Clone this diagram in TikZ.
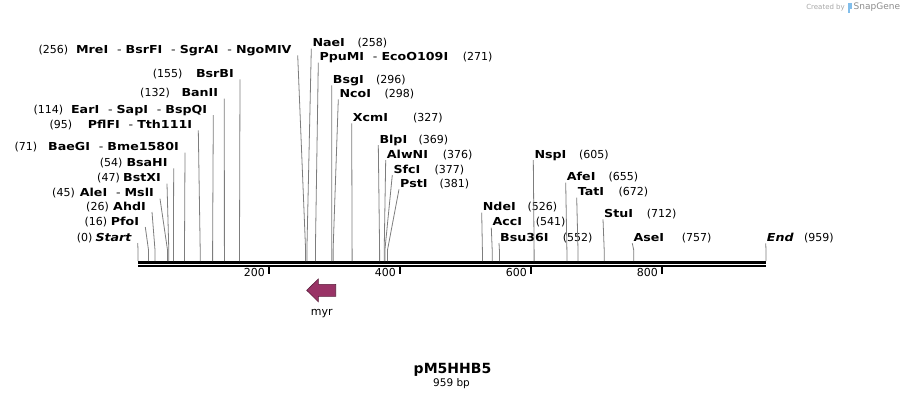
\documentclass[tikz,border=0pt]{standalone}
\usepackage{fontspec}
\setmainfont{DejaVu Sans}
\newfontfamily\enzfont{DejaVu Sans}[FakeStretch=1.15]
\usetikzlibrary{positioning}
\definecolor{myrfill}{RGB}{153,51,102}
\definecolor{myrline}{RGB}{90,30,60}
\definecolor{cutgray}{RGB}{125,125,125}
\definecolor{snapblue}{RGB}{130,190,235}

\begin{document}
\begin{tikzpicture}[x=1pt,y=-1pt]

    \tikzset{
      enz/.style={inner sep=0pt,font=\fontsize{11}{13}\enzfont\bfseries},
      num/.style={inner sep=0pt,font=\fontsize{11}{13}\selectfont},
      cut/.style={draw=cutgray,line width=0.8pt},
      tick/.style={line width=1.8pt},
    }
    \useasboundingbox (0,0) rectangle (905,400);

    % sites on the backbone
    \coordinate (s0) at (138,261);
    \coordinate (s16) at (148.5,261);
    \coordinate (s26) at (155,261);
    \coordinate (s45) at (167.5,261);
    \coordinate (s47) at (168.8,261);
    \coordinate (s54) at (173.4,261);
    \coordinate (s71) at (184.5,261);
    \coordinate (s95) at (200.2,261);
    \coordinate (s114) at (212.6,261);
    \coordinate (s132) at (224.4,261);
    \coordinate (s155) at (239.5,261);
    \coordinate (s256) at (305.6,261);
    \coordinate (s258) at (306.9,261);
    \coordinate (s271) at (315.4,261);
    \coordinate (s296) at (331.8,261);
    \coordinate (s298) at (333.1,261);
    \coordinate (s327) at (352.1,261);
    \coordinate (s369) at (379.6,261);
    \coordinate (s376) at (384.2,261);
    \coordinate (s377) at (384.9,261);
    \coordinate (s381) at (387.5,261);
    \coordinate (s526) at (482.4,261);
    \coordinate (s541) at (492.2,261);
    \coordinate (s552) at (499.4,261);
    \coordinate (s605) at (534.1,261);
    \coordinate (s655) at (566.9,261);
    \coordinate (s672) at (578,261);
    \coordinate (s712) at (604.2,261);
    \coordinate (s757) at (633.7,261);
    \coordinate (s959) at (766,261);

    % backbone and ruler
    \draw[line width=3.3pt] (138,262.3) -- (766,262.3);
    \draw[line width=2pt] (138,266.3) -- (766,266.3);
    \foreach \t/\x in {200/269,400/400,600/531,800/662}{
      \draw[tick] (\x,267) -- (\x,273.5);
      \node[num,anchor=east] (r\t) at (\x-4,272.5) {\t};
    }

    % labels left of their sites
    \node[enz,anchor=base east] (start) at (131.7,241) {\itshape Start};
    \node[num,anchor=base east] (n0) at (92.7,241) {(0)};
    \node[enz,anchor=base east] (pfoI) at (139.3,225) {PfoI};
    \node[num,anchor=base east] (n16) at (107.3,225) {(16)};
    \node[enz,anchor=base east] (ahdI) at (146,210) {AhdI};
    \node[num,anchor=base east] (n26) at (109,210) {(26)};
    \node[enz,anchor=base east] (aleI) at (154,196.7) {AleI \ \mdseries- \bfseries MslI};
    \node[num,anchor=base east] (n45) at (75,196.7) {(45)};
    \node[enz,anchor=base east] (bstXI) at (161,181.7) {BstXI};
    \node[num,anchor=base east] (n47) at (120,181.7) {(47)};
    \node[enz,anchor=base east] (bsaHI) at (167.7,166.3) {BsaHI};
    \node[num,anchor=base east] (n54) at (122.7,166.3) {(54)};
    \node[enz,anchor=base east] (baeGI) at (179,150.7) {BaeGI \ \mdseries- \bfseries Bme1580I};
    \node[num,anchor=base east] (n71) at (37.3,150.7) {(71)};
    \node[enz,anchor=base east] (pflFI) at (192.3,128.3) {PflFI \ \mdseries- \bfseries Tth111I};
    \node[num,anchor=base east] (n95) at (72.3,128.3) {(95)};
    \node[enz,anchor=base east] (earI) at (207.3,113) {EarI \ \mdseries- \bfseries SapI \ \mdseries- \bfseries BspQI};
    \node[num,anchor=base east] (n114) at (63.3,113) {(114)};
    \node[enz,anchor=base east] (banII) at (218.3,96.7) {BanII};
    \node[num,anchor=base east] (n132) at (170,96.7) {(132)};
    \node[enz,anchor=base east] (bsrBI) at (234,77.3) {BsrBI};
    \node[num,anchor=base east] (n155) at (182.7,77.3) {(155)};
    \node[enz,anchor=base east] (mreI) at (291.7,53.3) {MreI \ \mdseries- \bfseries BsrFI \ \mdseries- \bfseries SgrAI \ \mdseries- \bfseries NgoMIV};
    \node[num,anchor=base east] (n256) at (68.3,53.3) {(256)};

    % labels right of their sites
    \node[enz,anchor=base west] (naeI) at (312.3,46.7) {NaeI};
    \node[num,anchor=base west] (n258) at (357.3,46.7) {(258)};
    \node[enz,anchor=base west] (ppuMI) at (319.3,60.7) {PpuMI \ \mdseries- \bfseries EcoO109I};
    \node[num,anchor=base west] (n271) at (462.7,60.7) {(271)};
    \node[enz,anchor=base west] (bsgI) at (332.7,83.3) {BsgI};
    \node[num,anchor=base west] (n296) at (376,83.3) {(296)};
    \node[enz,anchor=base west] (ncoI) at (339.3,97.3) {NcoI};
    \node[num,anchor=base west] (n298) at (384.3,97.3) {(298)};
    \node[enz,anchor=base west] (xcmI) at (352.7,121.3) {XcmI};
    \node[num,anchor=base west] (n327) at (413,121.3) {(327)};
    \node[enz,anchor=base west] (blpI) at (379.3,143) {BlpI};
    \node[num,anchor=base west] (n369) at (418.3,143) {(369)};
    \node[enz,anchor=base west] (alwNI) at (386.7,158) {AlwNI};
    \node[num,anchor=base west] (n376) at (442.7,158) {(376)};
    \node[enz,anchor=base west] (sfcI) at (393.3,173) {SfcI};
    \node[num,anchor=base west] (n377) at (434.3,173) {(377)};
    \node[enz,anchor=base west] (pstI) at (400,187.3) {PstI};
    \node[num,anchor=base west] (n381) at (439.3,187.3) {(381)};
    \node[enz,anchor=base west] (ndeI) at (482.7,210.7) {NdeI};
    \node[num,anchor=base west] (n526) at (527.3,210.7) {(526)};
    \node[enz,anchor=base west] (accI) at (492.3,225.7) {AccI};
    \node[num,anchor=base west] (n541) at (535.7,225.7) {(541)};
    \node[enz,anchor=base west] (bsu36I) at (500,241) {Bsu36I};
    \node[num,anchor=base west] (n552) at (562.7,241) {(552)};
    \node[enz,anchor=base west] (nspI) at (534.3,158) {NspI};
    \node[num,anchor=base west] (n605) at (579,158) {(605)};
    \node[enz,anchor=base west] (afeI) at (566.7,180.7) {AfeI};
    \node[num,anchor=base west] (n655) at (608.3,180.7) {(655)};
    \node[enz,anchor=base west] (tatI) at (577.7,195.7) {TatI};
    \node[num,anchor=base west] (n672) at (618.3,195.7) {(672)};
    \node[enz,anchor=base west] (stuI) at (604,217.3) {StuI};
    \node[num,anchor=base west] (n712) at (646.7,217.3) {(712)};
    \node[enz,anchor=base west] (aseI) at (633.3,241.3) {AseI};
    \node[num,anchor=base west] (n757) at (681.7,241.3) {(757)};
    \node[enz,anchor=base west] (endlab) at (766.7,241.3) {\itshape End};
    \node[num,anchor=base west] (n959) at (804,241.3) {(959)};

    % cut lines
    \foreach \l/\s in {start/s0,pfoI/s16,ahdI/s26,aleI/s45,bstXI/s47,bsaHI/s54,
                       baeGI/s71,pflFI/s95,earI/s114,banII/s132,bsrBI/s155,mreI/s256}
      \draw[cut] ([shift={(6,2)}]\l.base east) -- ([yshift=11pt]\s) -- (\s);
    \foreach \l/\s in {naeI/s258,ppuMI/s271,bsgI/s296,ncoI/s298,xcmI/s327,blpI/s369,
                       alwNI/s376,sfcI/s377,pstI/s381,ndeI/s526,accI/s541,bsu36I/s552,
                       nspI/s605,afeI/s655,tatI/s672,stuI/s712,aseI/s757,endlab/s959}
      \draw[cut] ([shift={(-1,2)}]\l.base west) -- ([yshift=11pt]\s) -- (\s);

    % feature
    \draw[fill=myrfill,draw=myrline,line width=0.6pt] (306.7,290.3) -- (318.3,279) -- (318.3,284.3)
      -- (335.7,284.3) -- (335.7,296.3) -- (318.3,296.3) -- (318.3,301.7) -- cycle;
    \node[num] (myr) at (321.7,313.5) {myr};

    % title
    \node[inner sep=0pt,font=\fontsize{14}{17}\selectfont\bfseries] (title) at (452.5,369.5) {pM5HHB5};
    \node[inner sep=0pt,font=\fontsize{10.5}{12}\selectfont] (size) at (451.5,384) {959 bp};

    % credit
    \node[inner sep=0pt,anchor=east,text=black!35,font=\fontsize{7}{8}\selectfont] (credit) at (845,7.5) {Created by};
    \fill[snapblue] (847.5,2.5) rectangle (852,8.5);
    \fill[snapblue] (847.5,8.5) rectangle (849.8,13);
    \node[inner sep=0pt,anchor=west,text=black!45,font=\fontsize{9}{10}\selectfont] (snap) at (853.5,7.5) {SnapGene};

\end{tikzpicture}
\end{document}
